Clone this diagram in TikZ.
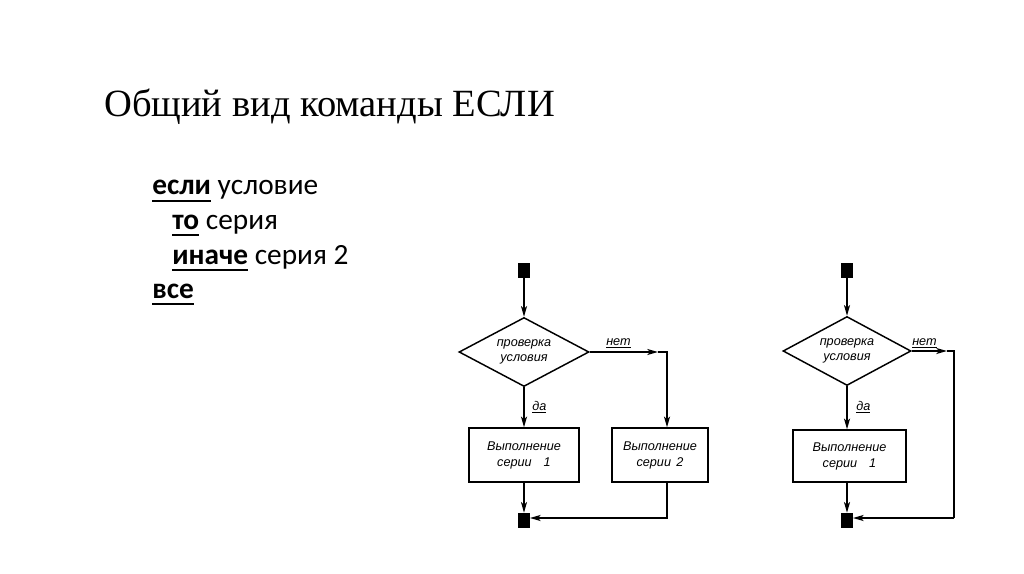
\documentclass[tikz,border=0pt]{standalone}
\usepackage{fontspec}
\setmainfont{Liberation Serif}
\newfontfamily\bodyfont{Carlito}
\newfontfamily\chartfont{Liberation Sans Italic}
\usetikzlibrary{shapes.geometric,arrows.meta}
\newcommand\myul[1]{\setbox0\hbox{#1}\rlap{\rule[-5.5pt]{\wd0}{1.5pt}}\box0\relax}
\newcommand\chul[1]{\setbox0\hbox{#1}\rlap{\rule[-2pt]{\wd0}{0.8pt}}\box0\relax}
\tikzset{
  bodytext/.style={anchor=base west, inner sep=0pt, font=\bodyfont\fontsize{22}{26}\selectfont},
  term/.style={draw, fill=black, rectangle, minimum width=8.5pt, minimum height=10.5pt, inner sep=0pt},
  cond/.style={draw, diamond, aspect=2, inner sep=0pt, line width=1.1pt, align=center,
     font=\chartfont\fontsize{9.5}{11.5}\selectfont},
  proc/.style={draw, rectangle, line width=1.1pt, align=center, minimum height=40.5pt,
     font=\chartfont\fontsize{9.5}{12}\selectfont},
  lab/.style={anchor=base west, inner sep=0pt, font=\chartfont\fontsize{9.5}{11}\selectfont},
  conn/.style={line width=1.1pt},
  arr/.style={conn, -{Stealth[length=8pt,width=4.5pt,inset=2pt]}},
}
\begin{document}
\begin{tikzpicture}[x=0.75pt,y=-0.75pt]
\fill[white] (0,0) rectangle (1024,574);
\useasboundingbox (0,0) rectangle (1024,574);

\node[anchor=base west, inner sep=0pt, font=\fontsize{28.9}{34}\selectfont] (title) at (104,117) {Общий вид команды ЕСЛИ};

\node[bodytext] (l1) at (152,195) {\myul{\bfseries если} условие};
\node[bodytext] (l2) at (172,229) {\myul{\bfseries то} серия};
\node[bodytext] (l3) at (172,264) {\myul{\bfseries иначе} серия 2};
\node[bodytext] (l4) at (152,298) {\myul{\bfseries все}};

% ---- chart 1
\node[term] (s1) at (524,270) {};
\node[cond, minimum width=97.5pt, minimum height=51.75pt] (d1) at (524,352) {проверка\\условия};
\node[proc, minimum width=82.5pt] (b1) at (524,455) {Выполнение\\серии\hspace{9pt}1};
\node[proc, minimum width=72pt] (b2) at (660,455) {Выполнение\\серии\hspace{4pt}2};
\node[term] (e1) at (524,520) {};
\coordinate (a1) at (658,352);
\coordinate (c1) at (667,352);
\coordinate (c1b) at (667,518);
\node[lab] (n1) at (606,345) {\chul{нет}};
\node[lab] (y1) at (532,410) {\chul{да}};

\draw[arr] (s1) -- (d1.north);
\draw[arr] (d1.south) -- (b1.north);
\draw[arr] (d1.east) -- (a1);
\draw[arr] (a1) -- (c1) -- (c1 |- b2.north);
\draw[arr] (b1.south) -- (e1.north);
\draw[arr] (c1 |- b2.south) -- (c1b) -- (e1.east |- c1b);

% ---- chart 2
\node[term] (s2) at (847,270) {};
\node[cond, minimum width=96pt, minimum height=51.75pt] (d2) at (847,351) {проверка\\условия};
\node[proc, minimum width=85pt, minimum height=39pt] (b3) at (849.5,456) {Выполнение\\серии\hspace{9pt}1};
\node[term] (e2) at (847,520) {};
\coordinate (a2) at (947,351);
\coordinate (c2) at (954,351);
\coordinate (c2b) at (954,518);
\node[lab] (n2) at (912,345) {\chul{нет}};
\node[lab] (y2) at (856,410) {\chul{да}};

\draw[arr] (s2) -- (d2.north);
\draw[arr] (d2.south) -- (d2.south |- b3.north);
\draw[arr] (d2.east) -- (a2);
\draw[conn] (a2) -- (c2) -- (c2b);
\draw[arr] (c2b) -- (e2.east |- c2b);
\draw[arr] (e2.north |- b3.south) -- (e2.north);
\end{tikzpicture}
\end{document}
